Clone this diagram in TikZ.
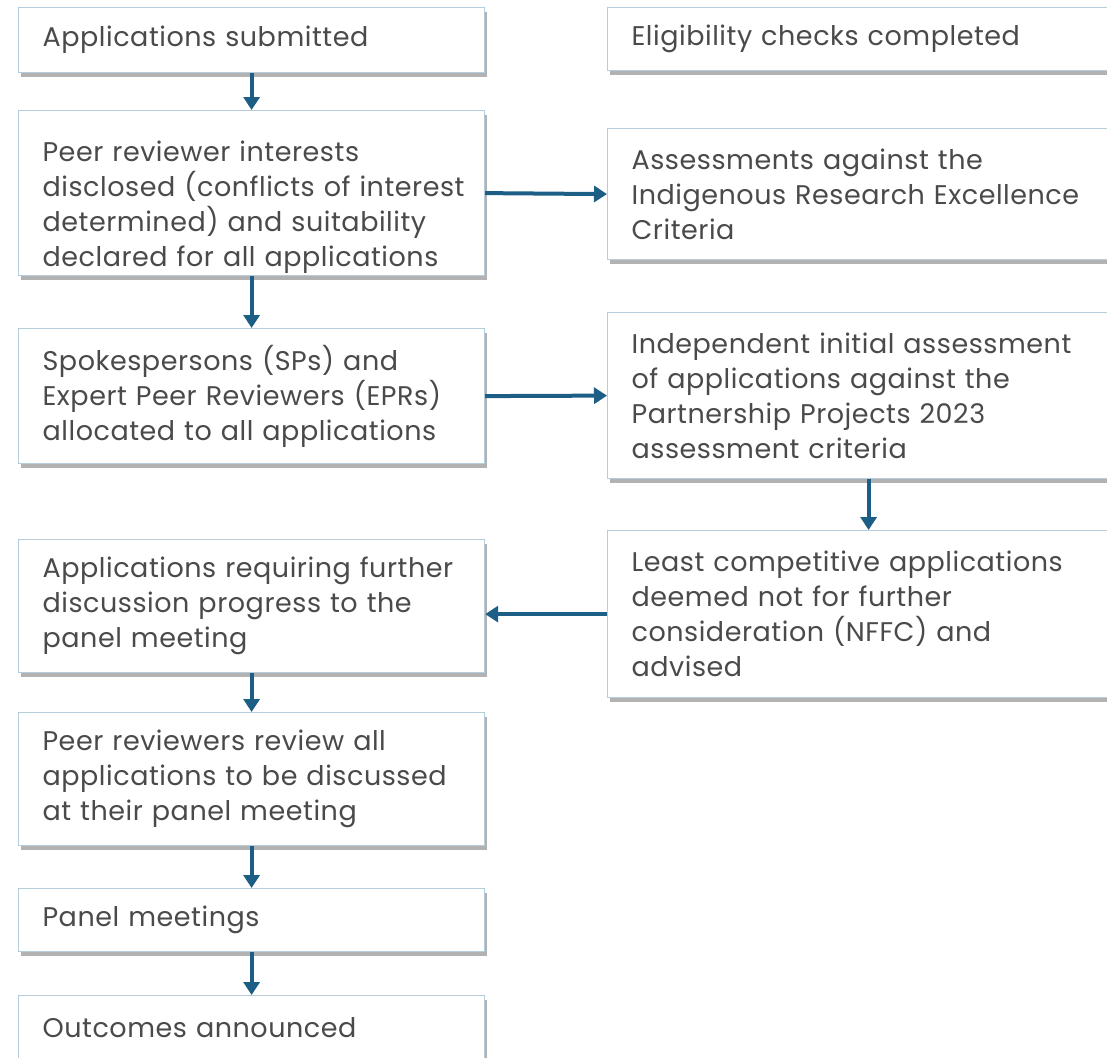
\documentclass[tikz,border=0pt]{standalone}
\usepackage{fontspec}
\setmainfont{Poppins}[LetterSpace=2]
\usepackage{xcolor}
\usepackage{tikz}
\usetikzlibrary{arrows.meta}
\usetikzlibrary{shadows}
\definecolor{boxline}{HTML}{B4CCDC}
\definecolor{flowblue}{HTML}{1C5E86}
\definecolor{txtgrey}{HTML}{4A4A4A}
\tikzset{>={Triangle[length=13pt,width=16pt]}}
\tikzset{
  stage/.style={draw=boxline, fill=white, line width=1.2pt, anchor=north west, align=left,
    inner xsep=24pt, inner ysep=0pt, text=txtgrey, font=\fontsize{27}{35}\selectfont,
    drop shadow={shadow xshift=2pt, shadow yshift=-4pt, fill=black!60, opacity=.5}},
  leftstage/.style={stage, minimum width=466pt, text width=418pt},
  rightstage/.style={stage, minimum width=520pt, text width=474pt},
  flow/.style={->, draw=flowblue, line width=4pt},
}

\begin{document}
\begin{tikzpicture}[x=1pt,y=-1pt]
        \useasboundingbox (0,0) rectangle (1107,1057);
        \node[leftstage, minimum height=65pt] (submitted) at (18,7) {Applications submitted};
        \node[leftstage, minimum height=165pt] (interests) at (18,110) {\rule{0pt}{48pt}Peer reviewer interests\\\mbox{disclosed (conflicts of interest}\\determined) and suitability\\declared for all applications};
        \node[leftstage, minimum height=135pt] (allocated) at (18,328) {Spokespersons (SPs) and\\Expert Peer Reviewers (EPRs)\\allocated to all applications};
        \node[leftstage, minimum height=133pt] (progress) at (18,539) {Applications requiring further\\discussion progress to the\\panel meeting};
        \node[leftstage, minimum height=133pt] (review) at (18,712) {Peer reviewers review all\\applications to be discussed\\at their panel meeting};
        \node[leftstage, minimum height=63pt] (meetings) at (18,888) {Panel meetings};
        \node[leftstage, minimum height=65pt] (outcomes) at (18,995) {Outcomes announced};
        \node[rightstage, minimum height=63pt] (eligibility) at (607,7) {Eligibility checks completed};
        \node[rightstage, minimum height=131pt] (indigenous) at (607,128) {Assessments against the\\Indigenous Research Excellence\\Criteria};
        \node[rightstage, minimum height=166pt] (initial) at (607,312) {Independent initial assessment\\of applications against the\\Partnership Projects 2023\\assessment criteria};
        \node[rightstage, minimum height=167pt] (nffc) at (607,530) {Least competitive applications\\deemed not for further\\consideration (NFFC) and\\advised};
        \draw[flow] (submitted) -- (interests);
        \draw[flow] (interests) -- (allocated);
        \draw[flow] (interests.east) -- (indigenous.west);
        \draw[flow] (allocated.east) -- (initial.west);
        \draw[flow] (initial) -- (nffc);
        \draw[flow] (nffc.west) -- (nffc.west -| progress.east);
        \draw[flow] (progress) -- (review);
        \draw[flow] (review) -- (meetings);
        \draw[flow] (meetings) -- (outcomes);
\end{tikzpicture}
\end{document}
